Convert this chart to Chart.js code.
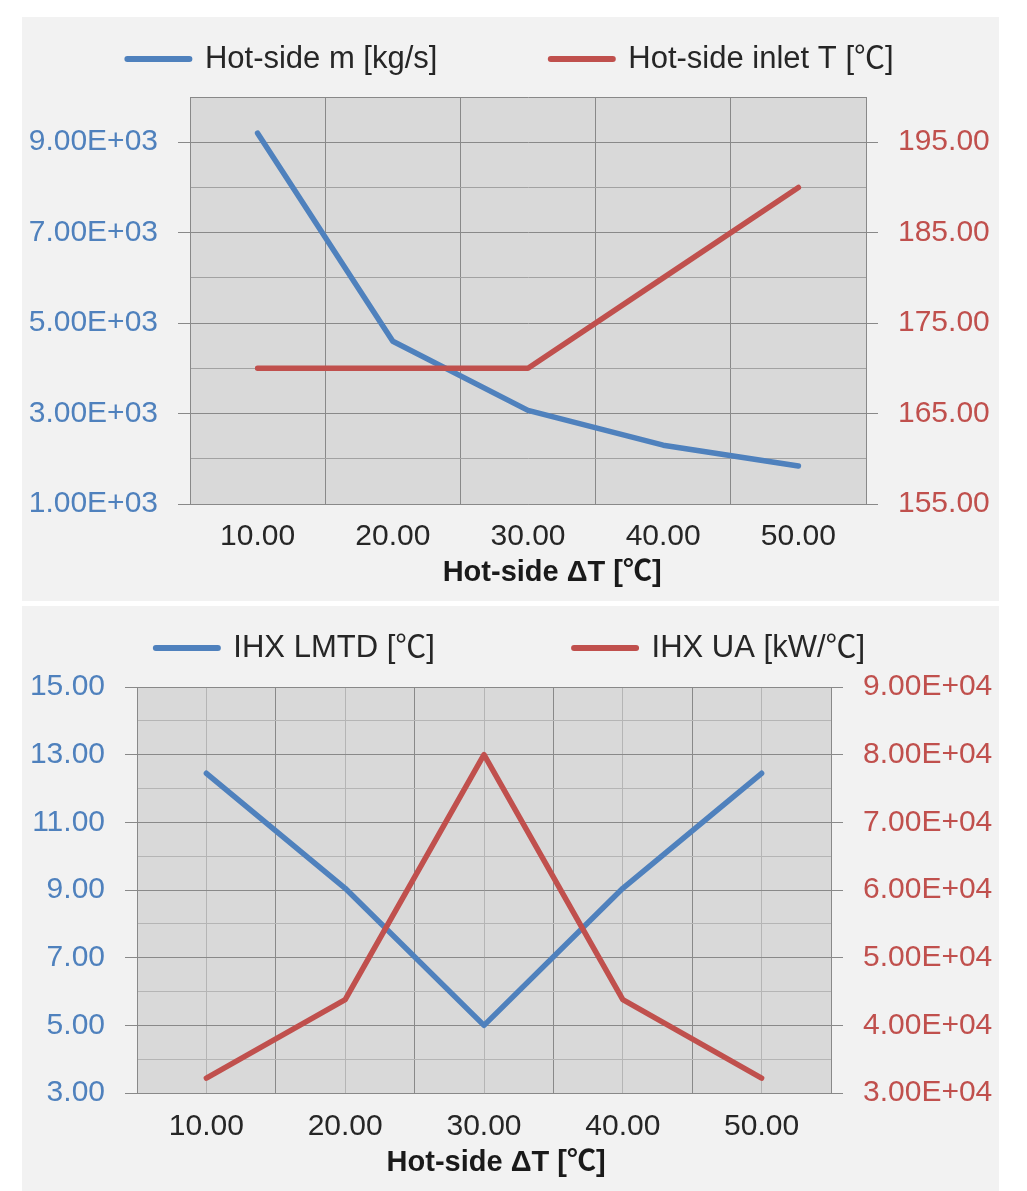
<!DOCTYPE html>
<html>
<head>
<meta charset="utf-8">
<script src="https://cdn.jsdelivr.net/npm/chart.js@4/dist/chart.umd.min.js"></script>
<style>
html,body{margin:0;padding:0;background:#ffffff;}
body{width:1027px;height:1191px;position:relative;overflow:hidden;}
.panel{position:absolute;left:22px;width:977px;background:#f2f2f2;}
#p1{top:17px;height:584px;}
#p2{top:606px;height:585px;}
canvas{display:block;}
</style>
</head>
<body>
<div class="panel" id="p1"><canvas id="c1" width="977" height="584"></canvas></div>
<div class="panel" id="p2"><canvas id="c2" width="977" height="585"></canvas></div>
<script>
// ---------- data ----------
const categories = ['10.00', '20.00', '30.00', '40.00', '50.00'];
const xTitle = 'Hot-side ΔT [℃]';

const massFlowLabel = 'Hot-side m [kg/s]';
const massFlow = [9200, 4600, 3070, 2300, 1840];
const inletTLabel = 'Hot-side inlet T [℃]';
const inletT = [170, 170, 170, 180, 190];

const lmtdLabel = 'IHX LMTD [℃]';
const lmtd = [12.45, 9.05, 5.0, 9.05, 12.45];
const uaLabel = 'IHX UA [kW/℃]';
const ua = [32200, 43800, 80000, 43800, 32200];

const massFlowTicks = [1000, 2000, 3000, 4000, 5000, 6000, 7000, 8000, 9000, 10000];
const massFlowLabelled = [1000, 3000, 5000, 7000, 9000];
const inletTTicks = [155, 160, 165, 170, 175, 180, 185, 190, 195, 200];
const inletTLabelled = [155, 165, 175, 185, 195];
const lmtdTicks = [3, 4, 5, 6, 7, 8, 9, 10, 11, 12, 13, 14, 15];
const lmtdLabelled = [3, 5, 7, 9, 11, 13, 15];
const uaTicks = [30000, 40000, 50000, 60000, 70000, 80000, 90000];

// ---------- style ----------
const FONT = "'Liberation Sans', 'Noto Sans CJK JP', 'DejaVu Sans', sans-serif";
Chart.defaults.font.family = FONT;
const DARK = '#898989', MID = '#a2a2a2', LIGHT = '#b5b5b5';
const BLUE = '#4f81bd', RED = '#c0504d', TEXT = '#262626';
const NBSP = '\u00a0';

function sci(v) {
  const p = Number(v).toExponential(2).split('e');
  const n = parseInt(p[1], 10);
  return p[0] + 'E' + (n < 0 ? '-' : '+') + String(Math.abs(n)).padStart(2, '0');
}
function setTicks(values) {
  return function (scale) { scale.ticks = values.map(v => ({ value: v })); };
}
const isIn = (arr, v) => arr.some(a => Math.abs(a - v) < 1e-9);

const plotBg = {
  id: 'plotBg',
  beforeDraw(chart) {
    const { ctx, chartArea: a } = chart;
    ctx.save();
    ctx.fillStyle = '#d9d9d9';
    ctx.fillRect(a.left, a.top, a.right - a.left, a.bottom - a.top);
    ctx.restore();
  }
};

function legendCfg(pad) {
  return {
    display: true,
    position: 'top',
    labels: {
      usePointStyle: true,
      pointStyleWidth: 62,
      padding: 10,
      color: TEXT,
      font: { size: 31 },
      generateLabels(chart) {
        return chart.data.datasets.map((ds, i) => ({
          text: ds.label + (i === 0 ? NBSP.repeat(pad) : ''),
          fillStyle: ds.borderColor,
          strokeStyle: ds.borderColor,
          fontColor: TEXT,
          lineWidth: 6,
          lineCap: 'round',
          pointStyle: 'line',
          hidden: !chart.isDatasetVisible(i),
          datasetIndex: i
        }));
      }
    }
  };
}
function spacer(lh) {
  return { display: true, text: '', weight: 500, position: 'top', padding: 0, font: { size: 10, lineHeight: lh } };
}
const lineDs = { borderWidth: 5.5, pointRadius: 0, pointHoverRadius: 0, tension: 0, fill: false,
                 borderCapStyle: 'round', borderJoinStyle: 'round' };

function xAxis(height, titlePad, tickPad, shift) {
  return {
    type: 'category',
    position: 'bottom',
    offset: true,
    grid: { offset: true, color: DARK, lineWidth: 1, drawTicks: false },
    border: { display: true, color: DARK, width: 1 },
    ticks: { color: TEXT, font: { size: 30 }, padding: tickPad, maxRotation: 0, autoSkip: false },
    title: { display: true, text: NBSP.repeat(shift) + xTitle, color: '#1a1a1a',
             font: { size: 29, weight: 'bold' }, padding: { top: 0, bottom: titlePad } },
    afterFit(s) { s.height = height; }
  };
}

// ---------- chart 1 ----------
new Chart(document.getElementById('c1'), {
  type: 'line',
  data: {
    labels: categories,
    datasets: [
      Object.assign({ label: massFlowLabel, data: massFlow, borderColor: BLUE, backgroundColor: BLUE, yAxisID: 'y', order: 1 }, lineDs),
      Object.assign({ label: inletTLabel, data: inletT, borderColor: RED, backgroundColor: RED, yAxisID: 'y1', order: 0 }, lineDs)
    ]
  },
  options: {
    responsive: false,
    animation: false,
    layout: { padding: { top: 16.5, left: 0, right: 0, bottom: 0 } },
    plugins: { legend: legendCfg(12), title: spacer(1.25), tooltip: { enabled: false } },
    scales: {
      x: xAxis(97, 11, 15, 6),
      y: {
        position: 'left', min: 1000, max: 10000,
        afterBuildTicks: setTicks(massFlowTicks),
        ticks: { color: BLUE, font: { size: 30 }, padding: 20, autoSkip: false,
                 callback: v => isIn(massFlowLabelled, v) ? sci(v) : '' },
        grid: { lineWidth: 1, tickLength: 12,
                color: c => (c.tick && isIn(massFlowLabelled, c.tick.value)) || (c.tick && c.tick.value === 10000) ? DARK : MID,
                tickColor: c => c.tick && isIn(massFlowLabelled, c.tick.value) ? DARK : 'rgba(0,0,0,0)' },
        border: { color: DARK, width: 1 },
        afterFit(s) { s.width = 168; }
      },
      y1: {
        position: 'right', min: 155, max: 200,
        afterBuildTicks: setTicks(inletTTicks),
        ticks: { color: RED, font: { size: 30 }, padding: 20, autoSkip: false,
                 callback: v => isIn(inletTLabelled, v) ? Number(v).toFixed(2) : '' },
        grid: { drawOnChartArea: false, lineWidth: 1, tickLength: 12,
                tickColor: c => c.tick && isIn(inletTLabelled, c.tick.value) ? DARK : 'rgba(0,0,0,0)' },
        border: { color: DARK, width: 1 },
        afterFit(s) { s.width = 133; }
      }
    }
  },
  plugins: [plotBg]
});

// ---------- chart 2 ----------
new Chart(document.getElementById('c2'), {
  type: 'line',
  data: {
    labels: categories,
    datasets: [
      Object.assign({ label: lmtdLabel, data: lmtd, borderColor: BLUE, backgroundColor: BLUE, yAxisID: 'y', order: 1 }, lineDs),
      Object.assign({ label: uaLabel, data: ua, borderColor: RED, backgroundColor: RED, yAxisID: 'y1', order: 0 }, lineDs)
    ]
  },
  options: {
    responsive: false,
    animation: false,
    layout: { padding: { top: 16.5, left: 0, right: 0, bottom: 0 } },
    plugins: { legend: legendCfg(15), title: spacer(1.35), tooltip: { enabled: false } },
    scales: {
      x: xAxis(98, 11, 16, 3),
      x2: {
        type: 'category',
        position: 'bottom',
        labels: categories,
        offset: true,
        grid: { offset: false, color: LIGHT, lineWidth: 1, drawTicks: false },
        border: { display: false },
        ticks: { display: false },
        afterFit(s) { s.height = 0; }
      },
      y: {
        position: 'left', min: 3, max: 15,
        afterBuildTicks: setTicks(lmtdTicks),
        ticks: { color: BLUE, font: { size: 30 }, padding: 20, autoSkip: false,
                 callback: v => isIn(lmtdLabelled, v) ? Number(v).toFixed(2) : '' },
        grid: { lineWidth: 1, tickLength: 12,
                color: c => c.tick && isIn(lmtdLabelled, c.tick.value) ? DARK : LIGHT,
                tickColor: c => c.tick && isIn(lmtdLabelled, c.tick.value) ? DARK : 'rgba(0,0,0,0)' },
        border: { color: DARK, width: 1 },
        afterFit(s) { s.width = 115; }
      },
      y1: {
        position: 'right', min: 30000, max: 90000,
        afterBuildTicks: setTicks(uaTicks),
        ticks: { color: RED, font: { size: 30 }, padding: 20, autoSkip: false,
                 callback: v => sci(v) },
        grid: { drawOnChartArea: false, lineWidth: 1, tickLength: 12, tickColor: DARK },
        border: { color: DARK, width: 1 },
        afterFit(s) { s.width = 168; }
      }
    }
  },
  plugins: [plotBg]
});
</script>
</body>
</html>
